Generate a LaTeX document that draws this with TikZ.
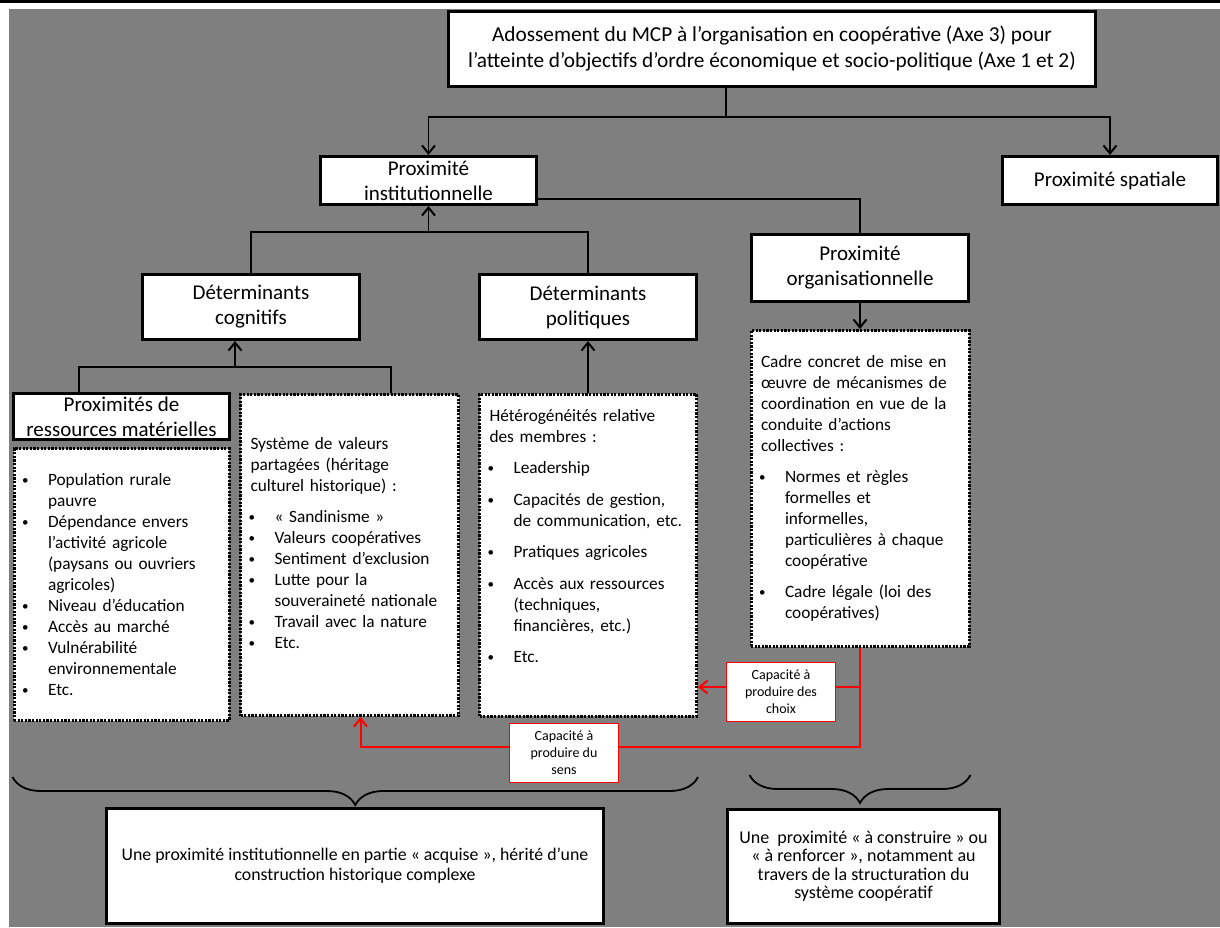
\documentclass[tikz,border=0pt]{standalone}
\usepackage{fontspec}
\setmainfont{Carlito}
\usetikzlibrary{positioning,arrows.meta,decorations.pathreplacing}

\definecolor{slate}{RGB}{127,127,127}
\newcommand{\puce}{\makebox[24pt][l]{\kern-2pt\raisebox{1pt}{\fontsize{13}{13}\selectfont\textbullet}}}
\newcommand{\suite}{\hspace*{24pt}}

\begin{document}
\begin{tikzpicture}[x=1pt, y=-1pt,
    >={Straight Barb[length=8pt,width=13pt,line width=2pt]},
    every node/.style={inner sep=0pt},
    titlebox/.style={draw, line width=3pt, fill=white, align=center,
        font=\fontsize{21}{25}\selectfont},
    listbox/.style={draw, line width=3pt, dash pattern=on 2.2pt off 1.4pt,
        fill=white, align=left, inner xsep=10pt,
        font=\fontsize{17.3}{21}\selectfont},
    link/.style={line width=1.3pt},
    redlink/.style={draw=red, line width=2pt},
    redlabel/.style={draw=red, line width=0.8pt, fill=white, align=center,
        font=\fontsize{14}{17}\selectfont, minimum width=109pt, minimum height=59pt},
    bracket/.style={line width=1.8pt, decoration={brace, amplitude=28pt}, decorate}]

    \useasboundingbox (0,0) rectangle (1220,927);
    \fill[slate] (9,9) rectangle (1220,927);
    \fill[black] (0,0) rectangle (1220,3);

    % titres
    \node[titlebox, font=\fontsize{21.3}{26}\selectfont, minimum width=647pt, minimum height=75pt] (top) at (772,49)
        {Adossement du MCP à l’organisation en coopérative (Axe 3) pour\\l’atteinte d’objectifs d’ordre économique et socio-politique (Axe 1 et 2)};
    \node[titlebox, minimum width=216pt, minimum height=48pt] (inst) at (428.5,180.5) {Proximité\\institutionnelle};
    \node[titlebox, minimum width=215pt, minimum height=48pt, right=463pt of inst] (spatial) {Proximité spatiale};
    \node[titlebox, minimum width=217pt, minimum height=67pt] (org) at (860,268) {Proximité\\organisationnelle};
    \node[titlebox, minimum width=217pt, minimum height=65pt] (cog) at (251,307) {Déterminants\\cognitifs};
    \node[titlebox, minimum width=217pt, minimum height=65pt, right=117pt of cog] (pol) {Déterminants\\politiques};
    \node[titlebox, minimum width=216pt, minimum height=46pt] (res) at (121.5,416.5) {Proximités de\\ressources matérielles};

    % listes
    \node[listbox, text width=195pt, minimum width=215pt, minimum height=272pt, below=6pt of res] (resList)
        {\puce Population rurale\\ \suite pauvre\\ \puce Dépendance envers\\ \suite l’activité agricole\\
         \suite (paysans ou ouvriers\\ \suite agricoles)\\ \puce Niveau d’éducation\\ \puce Accès au marché\\
         \puce Vulnérabilité\\ \suite environnementale\\ \puce Etc.};
    \node[listbox, text width=198pt, minimum width=218pt, minimum height=321pt] (val) at (349.5,555)
        {Système de valeurs\\ partagées (héritage\\ culturel historique) :\\[10pt]
         \puce « Sandinisme »\\ \puce Valeurs coopératives\\ \puce Sentiment d’exclusion\\
         \puce Lutte pour la\\ \suite souveraineté nationale\\ \puce Travail avec la nature\\
         \puce Etc.\\[3pt]\mbox{}};
    \node[listbox, text width=197pt, minimum width=217pt, minimum height=322pt, right=18pt of val] (het)
        {Hétérogénéités relative\\ des membres :\\[10.5pt]
         \puce Leadership\\[10.5pt]
         \puce Capacités de gestion,\\ \suite de communication, etc.\\[10.5pt]
         \puce Pratiques agricoles\\[10.5pt]
         \puce Accès aux ressources\\ \suite (techniques,\\ \suite financières, etc.)\\[10.5pt]
         \puce Etc.\\[17pt]\mbox{}};
    \node[listbox, text width=198pt, minimum width=218pt, minimum height=316pt, below=26pt of org] (cadre)
        {Cadre concret de mise en\\ œuvre de mécanismes de\\ coordination en vue de la\\ conduite d’actions\\ collectives :\\[10pt]
         \puce Normes et règles\\ \suite formelles et\\ \suite informelles,\\ \suite particulières à chaque\\ \suite coopérative\\[10pt]
         \puce Cadre légale (loi des\\ \suite coopératives)};

    % conclusions
    \node[titlebox, font=\fontsize{17.8}{20}\selectfont, minimum width=497pt, minimum height=115pt] (acq) at (355,866)
        {Une proximité institutionnelle en partie « acquise », hérité d’une\\construction historique complexe};
    \node[titlebox, font=\fontsize{18}{18.5}\selectfont, minimum width=272pt, minimum height=114pt, right=121pt of acq] (constr)
        {Une\ \ proximité « à construire » ou\\« à renforcer », notamment au\\travers de la structuration du\\système coopératif};

    % liens
    \coordinate (split) at (726,117);
    \draw[link] (top.south -| split) -- (split);
    \draw[link,->] (split) -| (inst);
    \draw[link,->] (split) -| (spatial);
    \draw[link] ([yshift=-18.5pt]inst.east) -| (org);
    \coordinate (joinDet) at (inst.south |- 0,232);
    \draw[link] (cog) |- (joinDet) -| (pol);
    \draw[link,->] (joinDet) -- (inst);
    \coordinate (joinCog) at (235,367);
    \draw[link] ([xshift=-42.5pt]res.north) |- (joinCog) -| ([xshift=41.5pt]val.north);
    \draw[link,->] (joinCog) -- (joinCog |- cog.south);
    \draw[link,->] (het) -- (pol);
    \draw[link,->] (org) -- (cadre);

    % capacites
    \coordinate (redKnee) at (cadre.south |- 0,747);
    \coordinate (redTee) at (cadre.south |- 0,687);
    \draw[redlink,->] (cadre.south) -- (redKnee) -| ([xshift=11pt]val.south);
    \draw[redlink,->] (redTee) -- (het.east |- redTee);
    \node[redlabel] (choix) at (781,692) {Capacité à\\produire des\\choix};
    \node[redlabel] (sens) at (564,753) {Capacité à\\produire du\\sens};

    % accolades
    \draw[bracket] (het.east |- 0,777) -- (resList.west |- 0,777);
    \draw[bracket] (cadre.east |- 0,775) -- (cadre.west |- 0,775);
\end{tikzpicture}
\end{document}
